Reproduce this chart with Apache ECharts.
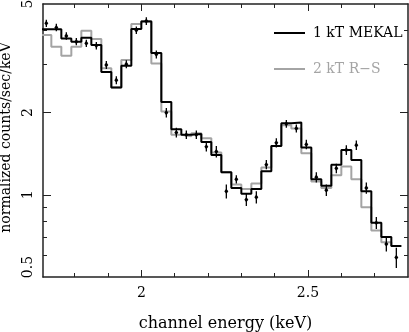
<!DOCTYPE html>
<html>
<head>
<meta charset="utf-8">
<script src="https://cdn.jsdelivr.net/npm/echarts@6/dist/echarts.min.js"></script>
<style>
  html, body { margin: 0; padding: 0; background: #fff; }
  #chart { width: 409px; height: 332px; }
</style>
</head>
<body>
<div id="chart"></div>
<script>
// channel bin edges (keV)
const binEdges = [1.70, 1.73, 1.76, 1.79, 1.82, 1.85, 1.88, 1.91, 1.94, 1.97, 2.00, 2.03,
  2.06, 2.09, 2.12, 2.15, 2.18, 2.21, 2.24, 2.27, 2.30, 2.33, 2.36, 2.39, 2.42, 2.45,
  2.48, 2.51, 2.54, 2.57, 2.60, 2.63, 2.66, 2.69, 2.72, 2.75, 2.78]

// model: 1 kT MEKAL
const mekal = [4.04, 4.04, 3.74, 3.64, 3.76, 3.54, 2.82, 2.47, 2.97, 4.05, 4.31, 3.31,
  2.19, 1.74, 1.66, 1.67, 1.56, 1.40, 1.21, 1.06, 1.01, 1.05, 1.22, 1.51,
  1.83, 1.84, 1.49, 1.14, 1.08, 1.29, 1.46, 1.34, 1.03, 0.79, 0.70, 0.65]

// model: 2 kT R-S
const rs = [3.85, 3.49, 3.23, 3.49, 3.99, 3.72, 2.91, 2.47, 3.12, 4.22, 4.33, 3.03,
  2.02, 1.66, 1.64, 1.68, 1.61, 1.43, 1.21, 1.09, 1.05, 1.10, 1.26, 1.51,
  1.80, 1.75, 1.42, 1.12, 1.06, 1.18, 1.27, 1.14, 0.90, 0.74, 0.67, 0.65]

// observed counts and 1-sigma errors
const counts = [4.25, 4.10, 3.82, 3.64, 3.59, 3.52, 2.99, 2.63, 3.01, 4.01, 4.33, 3.27,
  2.00, 1.69, 1.66, 1.66, 1.50, 1.44, 1.03, 1.14, 0.96, 0.98, 1.29, 1.55,
  1.82, 1.75, 1.53, 1.16, 1.04, 1.25, 1.46, 1.52, 1.06, 0.79, 0.66, 0.59]
const errors = [0.13, 0.13, 0.12, 0.11, 0.11, 0.11, 0.10, 0.09, 0.10, 0.13, 0.14, 0.11,
  0.08, 0.07, 0.06, 0.06, 0.06, 0.07, 0.06, 0.04, 0.05, 0.05, 0.05, 0.06,
  0.06, 0.06, 0.06, 0.05, 0.05, 0.05, 0.06, 0.06, 0.05, 0.04, 0.04, 0.05]

const xLabels = [2, 2.5]
const xMinorTicks = [1.8, 1.9, 2.1, 2.2, 2.3, 2.4, 2.6, 2.7]
const yLabels = [0.5, 1, 2, 5]
const yMajorTicks = [1, 2]
const yMinorTicks = [0.6, 0.7, 0.8, 0.9, 3, 4]

const font = 'DejaVu Serif'
const axisColor = '#222'

function steps(vals) {
  const pts = vals.map((v, i) => [binEdges[i], v])
  pts.push([binEdges[binEdges.length - 1], vals[vals.length - 1]])
  return pts
}

function xAx(pos, ticks, len, extra) {
  return Object.assign({
    type: 'value', position: pos, min: 1.705, max: 2.8,
    axisLine: { show: false, lineStyle: { color: axisColor, width: 1.5 } },
    axisTick: { inside: true, length: len, customValues: ticks, lineStyle: { color: axisColor, width: 1 } },
    axisLabel: { show: false },
    splitLine: { show: false }
  }, extra || {})
}

function yAx(pos, ticks, len, extra) {
  return Object.assign({
    type: 'log', logBase: 10, position: pos, min: 0.5, max: 5,
    axisLine: { show: false, lineStyle: { color: axisColor, width: 1.5 } },
    axisTick: { inside: true, length: len, customValues: ticks, lineStyle: { color: axisColor, width: 1 } },
    axisLabel: { show: false },
    splitLine: { show: false }
  }, extra || {})
}

const chart = echarts.init(document.getElementById('chart'))
const option = {
  animation: false,
  grid: { left: 43, right: 1, top: 4, bottom: 55, outerBoundsMode: 'none', containLabel: false },
  legend: {
    orient: 'vertical', left: 269, top: 20,
    itemWidth: 31, itemHeight: 2, itemGap: 20, icon: 'rect',
    textStyle: { fontFamily: font, fontSize: 14, lineHeight: 16, padding: [0, 0, 0, 3] },
    data: [
      { name: '1 kT MEKAL', textStyle: { color: '#000' } },
      { name: '2 kT R\u2212S', textStyle: { color: '#a4a4a4' } }
    ]
  },
  xAxis: [
    xAx('bottom', xMinorTicks, 4, {
      axisLine: { show: true, lineStyle: { color: axisColor, width: 1.5 } },
      axisLabel: { show: true, customValues: xLabels, margin: 9, color: '#000', fontFamily: font, fontSize: 14 },
      name: 'channel energy (keV)', nameLocation: 'middle', nameGap: 39,
      nameTextStyle: { color: '#000', fontFamily: font, fontSize: 16 }
    }),
    xAx('bottom', xLabels, 7),
    xAx('top', xMinorTicks, 4, { axisLine: { show: true, lineStyle: { color: axisColor, width: 1.5 } } }),
    xAx('top', xLabels, 7)
  ],
  yAxis: [
    yAx('left', yMinorTicks, 4, {
      axisLine: { show: true, lineStyle: { color: axisColor, width: 1.5 } },
      axisLabel: {
        show: true, customValues: yLabels, rotate: 90, margin: 8, color: '#000',
        fontFamily: font, fontSize: 14,
        formatter: v => {
          const s = String(+(+v).toPrecision(3))
          return +v < 0.55 ? '{lo|' + s + '}' : s
        },
        rich: { lo: { fontFamily: font, fontSize: 14, color: '#000', padding: [0, 0, 0, 20] } }
      },
      name: 'normalized counts/sec/keV', nameLocation: 'middle', nameGap: 13, nameRotate: 90,
      nameTextStyle: { color: '#000', fontFamily: font, fontSize: 14, padding: [0, 0, 0, 6] }
    }),
    yAx('left', yMajorTicks, 8),
    yAx('right', yMinorTicks, 4, { axisLine: { show: true, lineStyle: { color: axisColor, width: 1.5 } } }),
    yAx('right', yMajorTicks, 8)
  ],
  series: [
    {
      name: '2 kT R\u2212S', type: 'line', step: 'end', symbol: 'none',
      xAxisIndex: 0, yAxisIndex: 0,
      lineStyle: { color: '#a4a4a4', width: 2 }, itemStyle: { color: '#a4a4a4' },
      data: steps(rs)
    },
    {
      name: '1 kT MEKAL', type: 'line', step: 'end', symbol: 'none',
      xAxisIndex: 0, yAxisIndex: 0,
      lineStyle: { color: '#000', width: 2 }, itemStyle: { color: '#000' },
      data: steps(mekal)
    },
    {
      name: 'data', type: 'custom', xAxisIndex: 0, yAxisIndex: 0, z: 5,
      data: counts.map((c, i) => [(binEdges[i] + binEdges[i + 1]) / 2, c, errors[i]]),
      renderItem: function (params, api) {
        const x = api.value(0), y = api.value(1), e = api.value(2)
        const hi = api.coord([x, y + e])
        const lo = api.coord([x, y - e])
        const c = api.coord([x, y])
        return {
          type: 'group',
          children: [
            { type: 'line', shape: { x1: lo[0], y1: lo[1], x2: hi[0], y2: hi[1] },
              style: { stroke: '#000', lineWidth: 1.3 } },
            { type: 'polygon',
              shape: { points: [[c[0], c[1] - 2.6], [c[0] + 2, c[1]], [c[0], c[1] + 2.6], [c[0] - 2, c[1]]] },
              style: { fill: '#000' } }
          ]
        }
      }
    }
  ]
}
option && chart.setOption(option)
</script>
</body>
</html>
